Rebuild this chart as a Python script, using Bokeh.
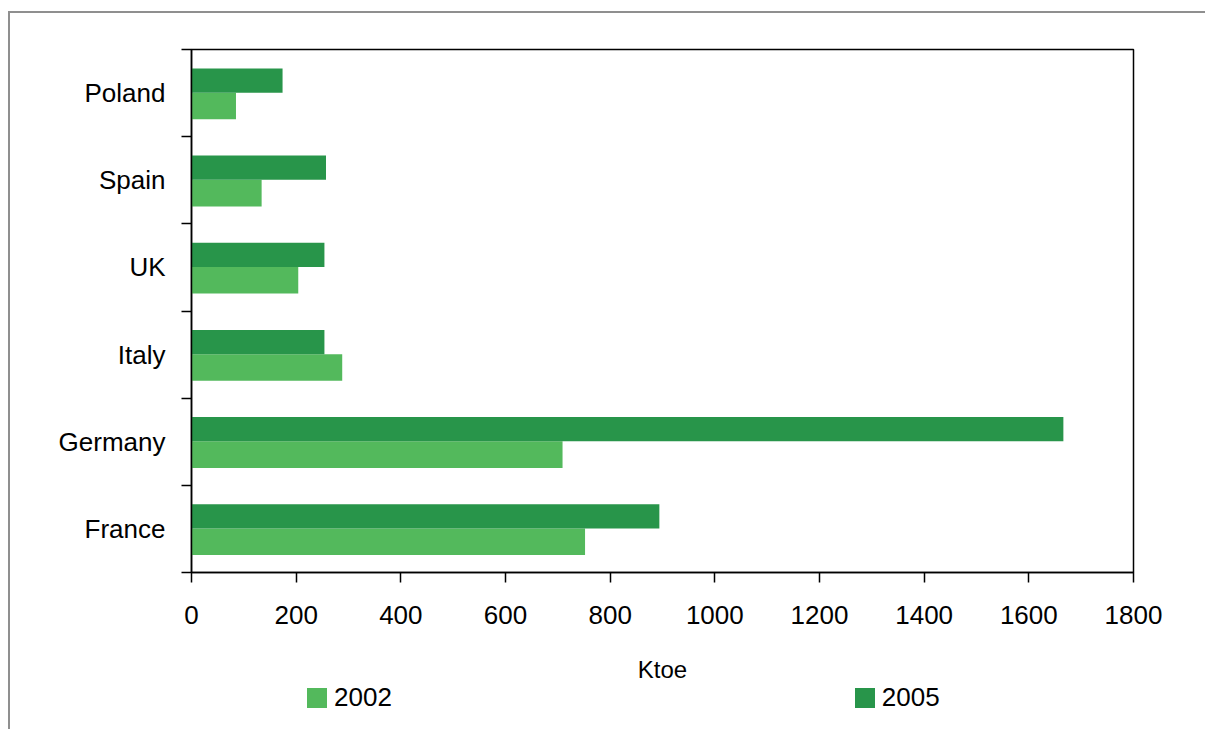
from bokeh.plotting import figure
from bokeh.layouts import column
from bokeh.models import Range1d, FixedTicker, Legend, LegendItem, ColumnDataSource
from bokeh.embed import file_html
from bokeh.resources import INLINE

# ---- data ----
countries = ["France", "Germany", "Italy", "UK", "Spain", "Poland"]
values_2002 = [752, 709, 288, 204, 134, 85]
values_2005 = [894, 1666, 254, 254, 257, 174]
x_ticks = [0, 200, 400, 600, 800, 1000, 1200, 1400, 1600, 1800]
x_label = "Ktoe"
series_labels = ["2002", "2005"]

FONT = "Liberation Sans"
C2002 = "#53b95c"
C2005 = "#28954a"
W = 1195

pos = list(range(1, len(countries) + 1))
src = ColumnDataSource(dict(
    y02=[p - 0.1475 for p in pos],
    y05=[p + 0.144 for p in pos],
    v02=values_2002,
    v05=values_2005,
))

p = figure(
    output_backend="svg", toolbar_location=None,
    frame_width=942, frame_height=523,
    min_border_left=181, min_border_right=W - 181 - 942,
    min_border_top=36, min_border_bottom=113,
    x_range=Range1d(0, 1800), y_range=Range1d(0.5, len(countries) + 0.5),
)
p.background_fill_color = "white"
p.border_fill_color = "white"
p.outline_line_color = "black"
p.outline_line_width = 1.5
p.xgrid.visible = False
p.ygrid.visible = False

r02 = p.hbar(y="y02", right="v02", left=0, height=0.305, source=src,
             fill_color=C2002, line_color=None)
r05 = p.hbar(y="y05", right="v05", left=0, height=0.278, source=src,
             fill_color=C2005, line_color=None)

# x axis
xa = p.xaxis[0]
xa.ticker = FixedTicker(ticks=x_ticks, minor_ticks=[])
xa.axis_label = x_label
xa.axis_line_color = "black"
xa.axis_line_width = 1.5
xa.major_tick_line_width = 1.5
xa.major_tick_out = 10
xa.major_tick_in = 0
xa.minor_tick_line_color = None
xa.major_label_text_font = FONT
xa.major_label_text_font_size = "26px"
xa.major_label_text_color = "black"
xa.major_label_standoff = 23
xa.axis_label_text_font = FONT
xa.axis_label_text_font_size = "24px"
xa.axis_label_text_font_style = "normal"
xa.axis_label_text_color = "black"
xa.axis_label_standoff = 29

# y axis: labels at category centres, ticks at boundaries
ya = p.yaxis[0]
ya.ticker = FixedTicker(ticks=pos, minor_ticks=[p_ - 0.5 for p_ in pos] + [len(pos) + 0.5])
ya.major_label_overrides = {p_: c for p_, c in zip(pos, countries)}
ya.axis_line_color = "black"
ya.axis_line_width = 1.5
ya.major_tick_line_color = None
ya.major_tick_out = 10
ya.major_tick_in = 0
ya.minor_tick_line_color = "black"
ya.minor_tick_line_width = 1.5
ya.minor_tick_out = 10
ya.minor_tick_in = 0
ya.major_label_text_font = FONT
ya.major_label_text_font_size = "26px"
ya.major_label_text_color = "black"
ya.major_label_standoff = 16

# legend strip below the chart (transparent, overlapping slightly)
lg = figure(
    output_backend="svg", toolbar_location=None,
    frame_width=W, frame_height=60,
    min_border_left=0, min_border_right=0, min_border_top=0, min_border_bottom=0,
    x_range=Range1d(0, 1), y_range=Range1d(100, 101),
    x_axis_type=None, y_axis_type=None,
)
lg.outline_line_color = None
lg.background_fill_alpha = 0
lg.border_fill_alpha = 0
lg.xgrid.visible = False
lg.ygrid.visible = False
lg.styles = {"margin-top": "-16px"}
k02 = lg.hbar(y="y02", right="v02", left=0, height=0.305, source=src,
              fill_color=C2002, line_color=None)
k05 = lg.hbar(y="y05", right="v05", left=0, height=0.278, source=src,
              fill_color=C2005, line_color=None)

legend = Legend(
    items=[LegendItem(label=series_labels[0], renderers=[k02]),
           LegendItem(label=series_labels[1], renderers=[k05])],
    orientation="horizontal",
    location=(294, 16),
    spacing=460,
    padding=0, margin=0,
    glyph_width=25, glyph_height=25, label_standoff=5,
    label_text_font=FONT, label_text_font_size="26px", label_text_color="black",
    border_line_color=None, background_fill_alpha=0,
)
lg.add_layout(legend, "center")

layout = column(p, lg, spacing=0)
layout.styles = {"border-left": "2px solid #8f8f8f", "border-top": "2px solid #8f8f8f",
                 "margin-top": "11px", "margin-left": "8px"}

open("out.html", "w").write(file_html(layout, INLINE))
